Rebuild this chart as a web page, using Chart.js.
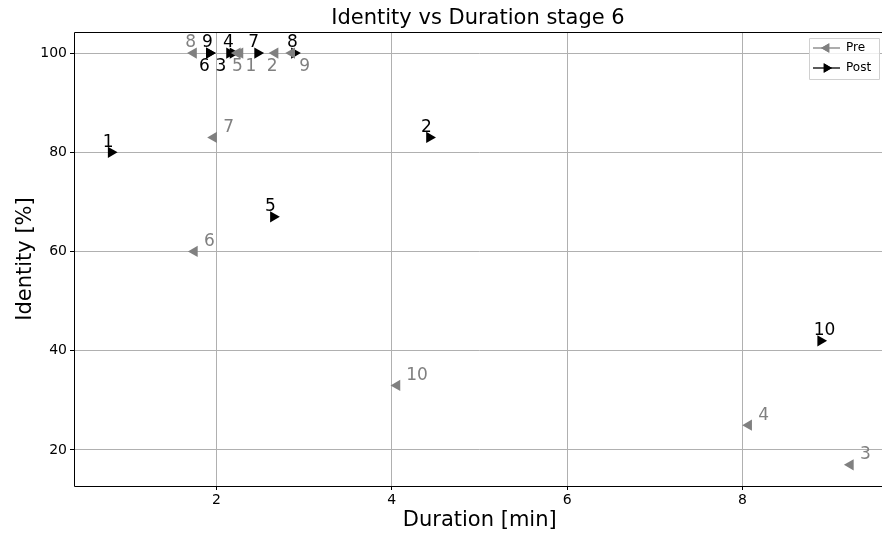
<!DOCTYPE html>
<html>
<head>
<meta charset="utf-8">
<script src="https://cdn.jsdelivr.net/npm/chart.js@4/dist/chart.umd.min.js"></script>
<style>
html,body{margin:0;padding:0;background:#fff;overflow:hidden;}
#wrap{width:882px;height:537px;position:relative;overflow:hidden;}
</style>
</head>
<body>
<div id="wrap"><canvas id="c" width="892" height="537"></canvas></div>
<script>
// ---- data ----
const pointLabels = ['1','2','3','4','5','6','7','8','9','10'];
const preDuration = [2.27, 2.67, 9.23, 8.07, 2.24, 1.75, 1.97, 1.74, 2.86, 4.06];
const preIdentity = [100, 100, 17, 25, 100, 60, 83, 100, 100, 33];
const postDuration = [0.80, 4.43, 2.19, 2.15, 2.65, 1.92, 2.47, 2.89, 1.92, 8.89];
const postIdentity = [80, 83, 100, 100, 67, 100, 100, 100, 100, 42];
const xTicks = [2, 4, 6, 8];
const yTicks = [20, 40, 60, 80, 100];
const chartTitle = 'Identity vs Duration stage 6';

// label pixel offsets (style, not data)
const preLabelOffsets = [[11,14],[-3,14],[15,-10],[15,-10],[0,14],[15,-10],[15,-10],[-3,-10],[13,14],[20,-10]];
const postLabelOffsets = [[-3,-10],[-3,-10],[-12,14],[-1,-10],[-3,-10],[-5,14],[-4,-10],[-2,-10],[-2,-10],[4,-10]];

const FONT = "'DejaVu Sans', sans-serif";
const GRAY = '#808080';

function toPts(xs, ys){ return xs.map((x,i)=>({x:x, y:ys[i]})); }

const labelPlugin = {
  id: 'labelsAndFrame',
  afterDatasetsDraw(chart){
    const ctx = chart.ctx;
    const xs = chart.scales.x, ys = chart.scales.y;
    const area = chart.chartArea;
    ctx.save();
    // title centred over visible plot area
    ctx.fillStyle = '#000';
    ctx.font = '21px ' + FONT;
    ctx.textAlign = 'center';
    ctx.textBaseline = 'middle';
    ctx.fillText(chartTitle, (area.left + 882) / 2, 19);

    ctx.font = '17px ' + FONT;
    chart.data.datasets.forEach((ds, di) => {
      const offs = di === 0 ? preLabelOffsets : postLabelOffsets;
      ctx.fillStyle = di === 0 ? GRAY : '#000';
      ds.data.forEach((p, i) => {
        const px = xs.getPixelForValue(p.x), py = ys.getPixelForValue(p.y);
        ctx.fillText(pointLabels[i], px + offs[i][0], py + offs[i][1]);
      });
    });
    // frame (left, top, bottom spines)
    ctx.strokeStyle = '#000';
    ctx.lineWidth = 1;
    const L = Math.round(area.left)+0.5, T = Math.round(area.top)+0.5, B = Math.round(area.bottom)+0.5, R = area.right;
    ctx.beginPath();
    ctx.moveTo(R, T); ctx.lineTo(L, T); ctx.lineTo(L, B); ctx.lineTo(R, B);
    ctx.stroke();
    // legend
    const lx = 809, ly = 38, lw = 70, lh = 41;
    ctx.fillStyle = 'rgba(255,255,255,0.8)';
    ctx.strokeStyle = '#d0d0d0';
    ctx.beginPath();
    ctx.rect(lx+0.5, ly+0.5, lw, lh);
    ctx.fill(); ctx.stroke();
    const entries = [['Pre', GRAY, -90, 48], ['Post', '#000', 90, 68]];
    entries.forEach(([txt, col, rot, yy]) => {
      ctx.strokeStyle = col; ctx.fillStyle = col; ctx.lineWidth = 1.3;
      ctx.beginPath(); ctx.moveTo(813, yy); ctx.lineTo(840, yy); ctx.stroke();
      Chart.helpers.drawPoint(ctx, {pointStyle:'triangle', rotation: rot, radius: 5.5, borderWidth: 0}, 826.5, yy);
      ctx.fill();
      ctx.fillStyle = '#000';
      ctx.font = '12px ' + FONT;
      ctx.textAlign = 'left';
      ctx.fillText(txt, 846, yy);
    });
    ctx.restore();
  }
};

new Chart(document.getElementById('c'), {
  type: 'scatter',
  data: {
    datasets: [
      { label: 'Pre', data: toPts(preDuration, preIdentity), pointStyle: 'triangle', rotation: -90,
        radius: 6.5, hoverRadius: 6.5, backgroundColor: GRAY, borderColor: GRAY, borderWidth: 0 },
      { label: 'Post', data: toPts(postDuration, postIdentity), pointStyle: 'triangle', rotation: 90,
        radius: 6.5, hoverRadius: 6.5, backgroundColor: '#000', borderColor: '#000', borderWidth: 0 }
    ]
  },
  options: {
    responsive: false,
    animation: false,
    layout: { padding: { left: 0, right: 0, top: 32, bottom: 0 } },
    plugins: {
      legend: { display: false },
      tooltip: { enabled: false },
      title: { display: false }
    },
    scales: {
      x: {
        type: 'linear', min: 0.377, max: 9.63,
        afterBuildTicks(s){ s.ticks = xTicks.map(v=>({value:v})); },
        afterFit(s){ s.height = 51; },
        grid: { color: '#b0b0b0', tickColor: '#000', tickLength: 4, drawTicks: true },
        border: { display: false },
        ticks: { color: '#000', font: { family: FONT, size: 14 }, padding: 2, maxRotation: 0 },
        title: { display: true, text: 'Duration [min]', color: '#000', font: { family: FONT, size: 21 }, padding: { top: 0, bottom: 4 } }
      },
      y: {
        type: 'linear', min: 12.73, max: 104.24,
        afterBuildTicks(s){ s.ticks = yTicks.map(v=>({value:v})); },
        afterFit(s){ s.width = 74; },
        grid: { color: '#b0b0b0', tickColor: '#000', tickLength: 4, drawTicks: true },
        border: { display: false },
        ticks: { color: '#000', font: { family: FONT, size: 14 }, padding: 3 },
        title: { display: true, text: 'Identity [%]', color: '#000', font: { family: FONT, size: 21 }, padding: { top: 13, bottom: 0 } }
      }
    }
  },
  plugins: [labelPlugin]
});
</script>
</body>
</html>
